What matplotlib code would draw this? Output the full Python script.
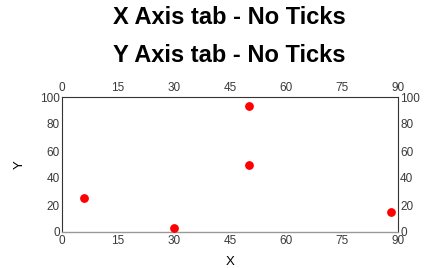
import matplotlib
matplotlib.use("Agg")
import matplotlib.pyplot as plt

plt.rcParams["font.family"] = ["Liberation Sans", "DejaVu Sans"]

x_vals = [6, 30, 50, 50, 88]
y_vals = [25, 3, 93, 50, 15]
x_ticks = [0, 15, 30, 45, 60, 75, 90]
y_ticks = [0, 20, 40, 60, 80, 100]

fig = plt.figure(figsize=(4.27, 2.68), dpi=100)
ax = fig.add_axes([62 / 427, 1 - 232 / 268, 336 / 427, 135 / 268])

ax.scatter(x_vals, y_vals, s=28, color="#ff0000", zorder=3, clip_on=False)
ax.set_xlim(0, 90)
ax.set_ylim(0, 100)
ax.set_xticks(x_ticks)
ax.set_yticks(y_ticks)

ax.tick_params(axis="both", length=0, labelsize=8.5, labelcolor="#3a3a3a", pad=1.5)
ax.tick_params(axis="x", top=True, labeltop=True, pad=2.5)
ax.tick_params(axis="y", right=True, labelright=True)

for side in ["top", "left", "right"]:
    ax.spines[side].set_color("#333333")
    ax.spines[side].set_linewidth(0.8)
ax.spines["bottom"].set_color("#999999")
ax.spines["bottom"].set_linewidth(1.0)

ax.set_xlabel("X", fontsize=9.5, labelpad=6)
ax.set_ylabel("Y", fontsize=9.5, labelpad=10)

fig.text(0.538, 1 - 18 / 268, "X Axis tab - No Ticks", fontsize=17, fontweight="bold",
         ha="center", va="center")
fig.text(0.538, 1 - 55 / 268, "Y Axis tab - No Ticks", fontsize=17, fontweight="bold",
         ha="center", va="center")

fig.savefig("out.png", dpi=100)
